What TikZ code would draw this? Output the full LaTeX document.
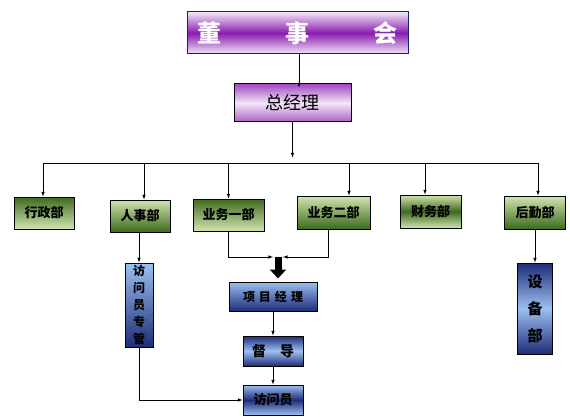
\documentclass[tikz,border=0pt]{standalone}
\usepackage{fontspec}
\newfontfamily\cjk{Noto Sans CJK SC}
\usetikzlibrary{calc, positioning, arrows, arrows.meta}

\definecolor{pdark}{HTML}{8A1CB0}
\definecolor{plight}{HTML}{F3E6F8}
\definecolor{gdark}{HTML}{3E6A1E}
\definecolor{glight}{HTML}{D2E4B0}
\definecolor{bdark}{HTML}{1E2C78}
\definecolor{blight}{HTML}{9CC0F0}

\tikzset{
  box/.style={draw=black, line width=1pt, inner sep=0pt, align=center},
  board/.style={box, draw=bdark!80!black, top color=plight, bottom color=plight, middle color=pdark},
  chief/.style={box, top color=pdark!80, bottom color=pdark!70, middle color=plight},
  greenA/.style={box, top color=gdark, bottom color=glight},
  greenB/.style={box, top color=glight, bottom color=gdark},
  greenC/.style={box, top color=glight, bottom color=glight, middle color=gdark},
  blueA/.style={box, top color=blight, bottom color=bdark},
  blueB/.style={box, top color=bdark, bottom color=bdark, middle color=blight},
  blueC/.style={box, top color=blight, bottom color=blight, middle color=bdark},
  dept/.style={minimum width=60pt, minimum height=32pt, font=\cjk\bfseries\fontsize{13}{13}\selectfont},
  link/.style={->, line width=0.6pt},
  bigarrow/.style={line width=7pt, -{Triangle[length=9pt, width=16pt]}}
}

\begin{document}
\begin{tikzpicture}[>=latex, x=1pt, y=-1pt]
\useasboundingbox (0,0) rectangle (570,417);

% top levels
\node[board, minimum width=221pt, minimum height=42pt, text=white,
      font=\cjk\bfseries\fontsize{24}{24}\selectfont] (dsh) at (297.5,33)
  {\makebox[200pt][s]{董\hfill 事\hfill 会}};
\node[chief, minimum width=117pt, minimum height=38pt,
      font=\cjk\fontsize{18}{18}\selectfont] (zjl) at (292.5,103) {总经理};

\draw[link] (dsh.south -| 299,0) -- ([shift={(6.5,4)}]zjl.north);

% departments
\node[greenA, dept] (xzb) at (44,213) {行政部};
\node[greenB, dept] (rsb) at (140,216) {人事部};
\node[greenA, dept, minimum width=71pt] (yw1) at (228.5,215) {业务一部};
\node[greenB, dept, minimum width=73pt, minimum height=33pt] (yw2) at (333.5,212.5) {业务二部};
\node[greenC, dept, minimum width=61pt, minimum height=33pt] (cwb) at (430.5,211.5) {财务部};
\node[greenB, dept, minimum width=61pt, minimum height=33pt] (hqb) at (535,212.5) {后勤部};

% bus to the departments
\coordinate (busL) at (43,163);
\coordinate (busR) at (538,163);
\draw[link] (zjl.south) -- ++(0,35);
\draw[line width=0.6pt] (busL) -- (busR);
\draw[link] (busL) -- (busL |- xzb.north);
\draw[link] (busL -| 144,0) -- (144,0 |- rsb.north);
\draw[link] (busL -| yw1.north) -- (yw1.north);
\draw[link] (busL -| 349,0) -- (349,0 |- yw2.north);
\draw[link] (busL -| 425,0) -- (425,0 |- cwb.north);
\draw[link] (busR) -- (busR |- hqb.north);

% lower level
\node[blueA, minimum width=28pt, minimum height=84pt,
      font=\cjk\bfseries\fontsize{12}{17}\selectfont] (fwzg) at (139,305) {访\\问\\员\\专\\管};
\node[blueB, minimum width=35pt, minimum height=91pt,
      font=\cjk\bfseries\fontsize{15}{27}\selectfont] (sbb) at (535,308.5) {设\\备\\部};
\node[blueA, minimum width=88pt, minimum height=29pt,
      font=\cjk\bfseries\fontsize{12}{12}\selectfont] (xmjl) at (273,296.5) {项\,\,目\,\,经\,\,理};
\node[blueB, minimum width=60pt, minimum height=30pt,
      font=\cjk\bfseries\fontsize{14}{14}\selectfont] (dd) at (273,351) {督\quad 导};
\node[blueC, minimum width=60pt, minimum height=30pt,
      font=\cjk\bfseries\fontsize{13}{13}\selectfont] (fwy) at (273,400) {访问员};

\draw[link] (rsb.south -| fwzg.north) -- (fwzg.north);
\draw[link] (fwzg.south) |- (fwy.west);
\draw[link] (hqb.south) -- (sbb.north);

\coordinate (mergeL) at (273,257);
\coordinate (mergeR) at (283,257);
\coordinate (merge) at (278,257);
\draw[link] (yw1.south) |- (mergeL);
\draw[link] ([xshift=-5.5pt]yw2.south) |- (mergeR);
\draw[bigarrow] (merge) -- ([yshift=3pt]merge |- xmjl.north);

\draw[link] (xmjl.south) -- (dd.north);
\draw[link] (dd.south) -- (fwy.north);

\end{tikzpicture}
\end{document}
